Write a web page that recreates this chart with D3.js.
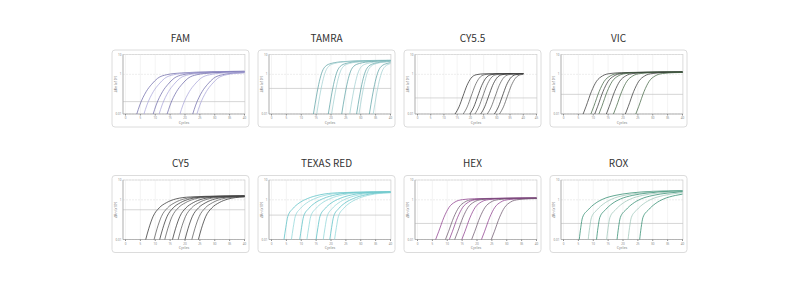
<!DOCTYPE html>
<html><head><meta charset="utf-8">
<script src="https://cdn.jsdelivr.net/npm/d3@7"></script>
<style>body{margin:0;background:#fff}svg{display:block}</style>
</head><body><svg id="c" width="800" height="290"></svg>
<script>
// ---- data ----
const dyes = ["FAM","TAMRA","CY5.5","VIC","CY5","TEXAS RED","HEX","ROX"];
const xTicks40 = [0,5,10,15,20,25,30,35,40];
const xTicks45 = [0,5,10,15,20,25,30,35,40,45];
const yTicks = [10,1,0.01];
const yTickLabels = ["10","1","0.01"];
const lastCycle = 40;

// cycle at which each amplification curve leaves the baseline
const famStarts   = [3.8, 6.2, 9.3, 11.3, 14.0, 18.3, 22.6, 24.0];
const tamraStarts = [14.1, 15.2, 19.1, 20.2, 23.6, 26.3, 28.6, 29.4, 32.9, 34.2];
const cy55Starts  = [14.2, 17.3, 19.8, 21.7, 23.9, 26.4, 29.1, 31.0];
const vicStarts   = [6.6, 9.2, 10.5, 11.9, 14.4, 16.8, 20.8, 24.3];
const cy5Starts   = [6.8, 9.6, 11.5, 13.2, 15.8, 17.7, 20.0, 22.3, 24.5];
const texasStarts = [4.2, 6.7, 9.5, 11.9, 15.0, 17.4, 19.6, 21.2];
const hexStarts   = [6.1, 9.4, 10.7, 12.5, 14.9, 18.2, 21.5, 24.8];
const roxStarts   = [5.3, 8.3, 11.1, 14.5, 18.0, 21.7, 25.6];

// curve shape for each dye: cycles after start, ΔRn
const famShapeX   = [0, 1, 3.2, 5, 7, 10, 15, 25, 40];
const famShapeY   = [0.01, 0.0282, 0.138, 0.316, 0.631, 0.955, 1.175, 1.349, 1.445];
const tamraShapeX = [0, 1, 2, 3, 4, 6, 10, 20, 40];
const tamraShapeY = [0.01, 0.0794, 0.447, 1.445, 2.512, 3.548, 4.365, 5.012, 5.2];
const cy55ShapeX  = [0, 1.5, 3, 4.5, 6, 8, 11, 20, 40];
const cy55ShapeY  = [0.01, 0.0229, 0.0794, 0.275, 0.631, 0.955, 1.059, 1.096, 1.1];
const vicShapeX   = [0, 1, 2.8, 4.5, 6.5, 9, 13, 25, 40];
const vicShapeY   = [0.01, 0.0245, 0.138, 0.447, 0.832, 1.096, 1.216, 1.303, 1.33];
const cy5ShapeX   = [0, 1, 2.5, 4.5, 7, 10, 15, 25, 40];
const cy5ShapeY   = [0.01, 0.0347, 0.148, 0.389, 0.724, 1.096, 1.396, 1.549, 1.6];
const texasShapeX = [0, 0.6, 1.3, 3, 5, 8, 12, 18, 30, 40];
const texasShapeY = [0.01, 0.0398, 0.148, 0.363, 0.676, 1.175, 1.778, 2.265, 2.512, 2.55];
const hexShapeX   = [0, 1, 2.8, 4.5, 6.5, 9, 13, 25, 40];
const hexShapeY   = [0.01, 0.0245, 0.133, 0.417, 0.776, 1.023, 1.135, 1.216, 1.24];
const roxShapeX   = [0, 0.5, 1.1, 3, 5.2, 8, 12, 17, 25, 35];
const roxShapeY   = [0.01, 0.0398, 0.129, 0.316, 0.631, 1.096, 1.66, 2.188, 2.69, 2.884];

const thresholds = [0.042, 0.195, 0.0646, 0.098, 0.316, 0.17, 0.0646, 0.0646];

// ---- styles ----
const palette = [
  ["#716dab","#aaa6da"],
  ["#5fa3a6","#a3d0d1"],
  ["#2f2f2f","#5c5c5c"],
  ["#3a3a3a","#476847"],
  ["#333333","#5a5a5a"],
  ["#55bfc4","#8fd5d8"],
  ["#8f3f8f","#6f5a6f"],
  ["#2e8b6e","#9ec5b8"]
];
const startsList = [famStarts,tamraStarts,cy55Starts,vicStarts,cy5Starts,texasStarts,hexStarts,roxStarts];
const shapes = [[famShapeX,famShapeY],[tamraShapeX,tamraShapeY],[cy55ShapeX,cy55ShapeY],[vicShapeX,vicShapeY],
                [cy5ShapeX,cy5ShapeY],[texasShapeX,texasShapeY],[hexShapeX,hexShapeY],[roxShapeX,roxShapeY]];
const xTicksList = [xTicks40,xTicks40,xTicks45,xTicks40,xTicks40,xTicks40,xTicks40,xTicks40];

const svg = d3.select("#c");
const defs = svg.append("defs");
const boxLefts = [112, 258, 404, 550];
const boxTops = [50, 175.5];
const boxW = 137, boxH = 77;

dyes.forEach((name, i) => {
  const bx = boxLefts[i % 4], by = boxTops[Math.floor(i / 4)];
  const ticks = xTicksList[i];
  const x = d3.scaleLinear().domain([0, ticks[ticks.length-1]]).range([bx + 13.5, bx + 132.5]);
  const y = d3.scaleLog().domain([0.01, 10]).range([by + 64, by + 4.5]);
  const g = svg.append("g");

  // title
  g.append("text").attr("x", bx + boxW/2).attr("y", by - 8.5)
    .attr("text-anchor","middle").attr("font-family","'Noto Sans CJK SC','Noto Sans',sans-serif")
    .attr("font-size", 10).attr("fill","#333").text(name);

  // card
  g.append("rect").attr("x", bx).attr("y", by).attr("width", boxW).attr("height", boxH)
    .attr("rx", 3).attr("fill","#fff").attr("stroke","#dcdcdc").attr("stroke-width",1);

  const px0 = bx + 11, px1 = bx + 133, py0 = y.range()[1], py1 = y.range()[0];

  // grid
  g.selectAll(".vg").data(ticks).join("line")
    .attr("x1", d => x(d)).attr("x2", d => x(d)).attr("y1", py0).attr("y2", py1)
    .attr("stroke","#ececec").attr("stroke-width",0.6);
  g.selectAll(".hg").data(yTicks).join("line")
    .attr("x1", px0).attr("x2", px1).attr("y1", d => y(d)).attr("y2", d => y(d))
    .attr("stroke","#e2e2e2").attr("stroke-width",0.6).attr("stroke-dasharray","2,1");
  // threshold
  g.append("line").attr("x1", px0).attr("x2", px1)
    .attr("y1", y(thresholds[i])).attr("y2", y(thresholds[i]))
    .attr("stroke","#c4c4c4").attr("stroke-width",0.7);

  // frame
  g.append("rect").attr("x", px0).attr("y", py0).attr("width", px1 - px0).attr("height", py1 - py0)
    .attr("fill","none").attr("stroke","#cfcfcf").attr("stroke-width",0.6);
  g.append("line").attr("x1", px0).attr("x2", px0).attr("y1", py0).attr("y2", py1).attr("stroke","#999").attr("stroke-width",0.6);
  g.append("line").attr("x1", px0).attr("x2", px1).attr("y1", py1).attr("y2", py1).attr("stroke","#999").attr("stroke-width",0.6);

  // x ticks
  g.selectAll(".xt").data(ticks).join("line")
    .attr("x1", d => x(d)).attr("x2", d => x(d)).attr("y1", py1).attr("y2", py1 + 1.5)
    .attr("stroke","#777").attr("stroke-width",0.8);
  g.selectAll(".xl").data(ticks).join("text")
    .attr("x", d => x(d)).attr("y", py1 + 5).attr("text-anchor","middle")
    .attr("font-family","'Noto Sans',sans-serif").attr("font-size",3).attr("fill","#888")
    .text(d => d);
  g.append("text").attr("x", (px0 + px1)/2).attr("y", py1 + 9.5).attr("text-anchor","middle")
    .attr("font-family","'Noto Sans',sans-serif").attr("font-size",3.6).attr("fill","#777").text("Cycles");

  // y ticks
  g.selectAll(".yl").data(yTicks).join("text")
    .attr("x", px0 - 1.5).attr("y", d => y(d) + 1).attr("text-anchor","end")
    .attr("font-family","'Noto Sans',sans-serif").attr("font-size",3).attr("fill","#888")
    .text((d, k) => yTickLabels[k]);
  g.append("text").attr("transform", `translate(${bx + 5},${(py0 + py1)/2}) rotate(-90)`)
    .attr("text-anchor","middle").attr("font-family","'Noto Sans',sans-serif")
    .attr("font-size",3.4).attr("fill","#777").text("ΔRn (x10³)");

  // curves
  const cid = "clip" + i;
  defs.append("clipPath").attr("id", cid).append("rect")
    .attr("x", x(0)).attr("y", py0).attr("width", x(lastCycle) - x(0)).attr("height", py1 - py0 + 0.5);
  const [sx, sy] = shapes[i];
  const line = d3.line().x(d => x(d[0])).y(d => y(d[1])).curve(d3.curveMonotoneX);
  const cg = g.append("g").attr("clip-path", `url(#${cid})`);
  startsList[i].forEach((s, k) => {
    const pts = sx.map((dx, j) => [s + dx, sy[j]]);
    cg.append("path").attr("d", line(pts)).attr("fill","none")
      .attr("stroke", palette[i][k % 2]).attr("stroke-width",0.75);
  });
});
</script></body></html>
